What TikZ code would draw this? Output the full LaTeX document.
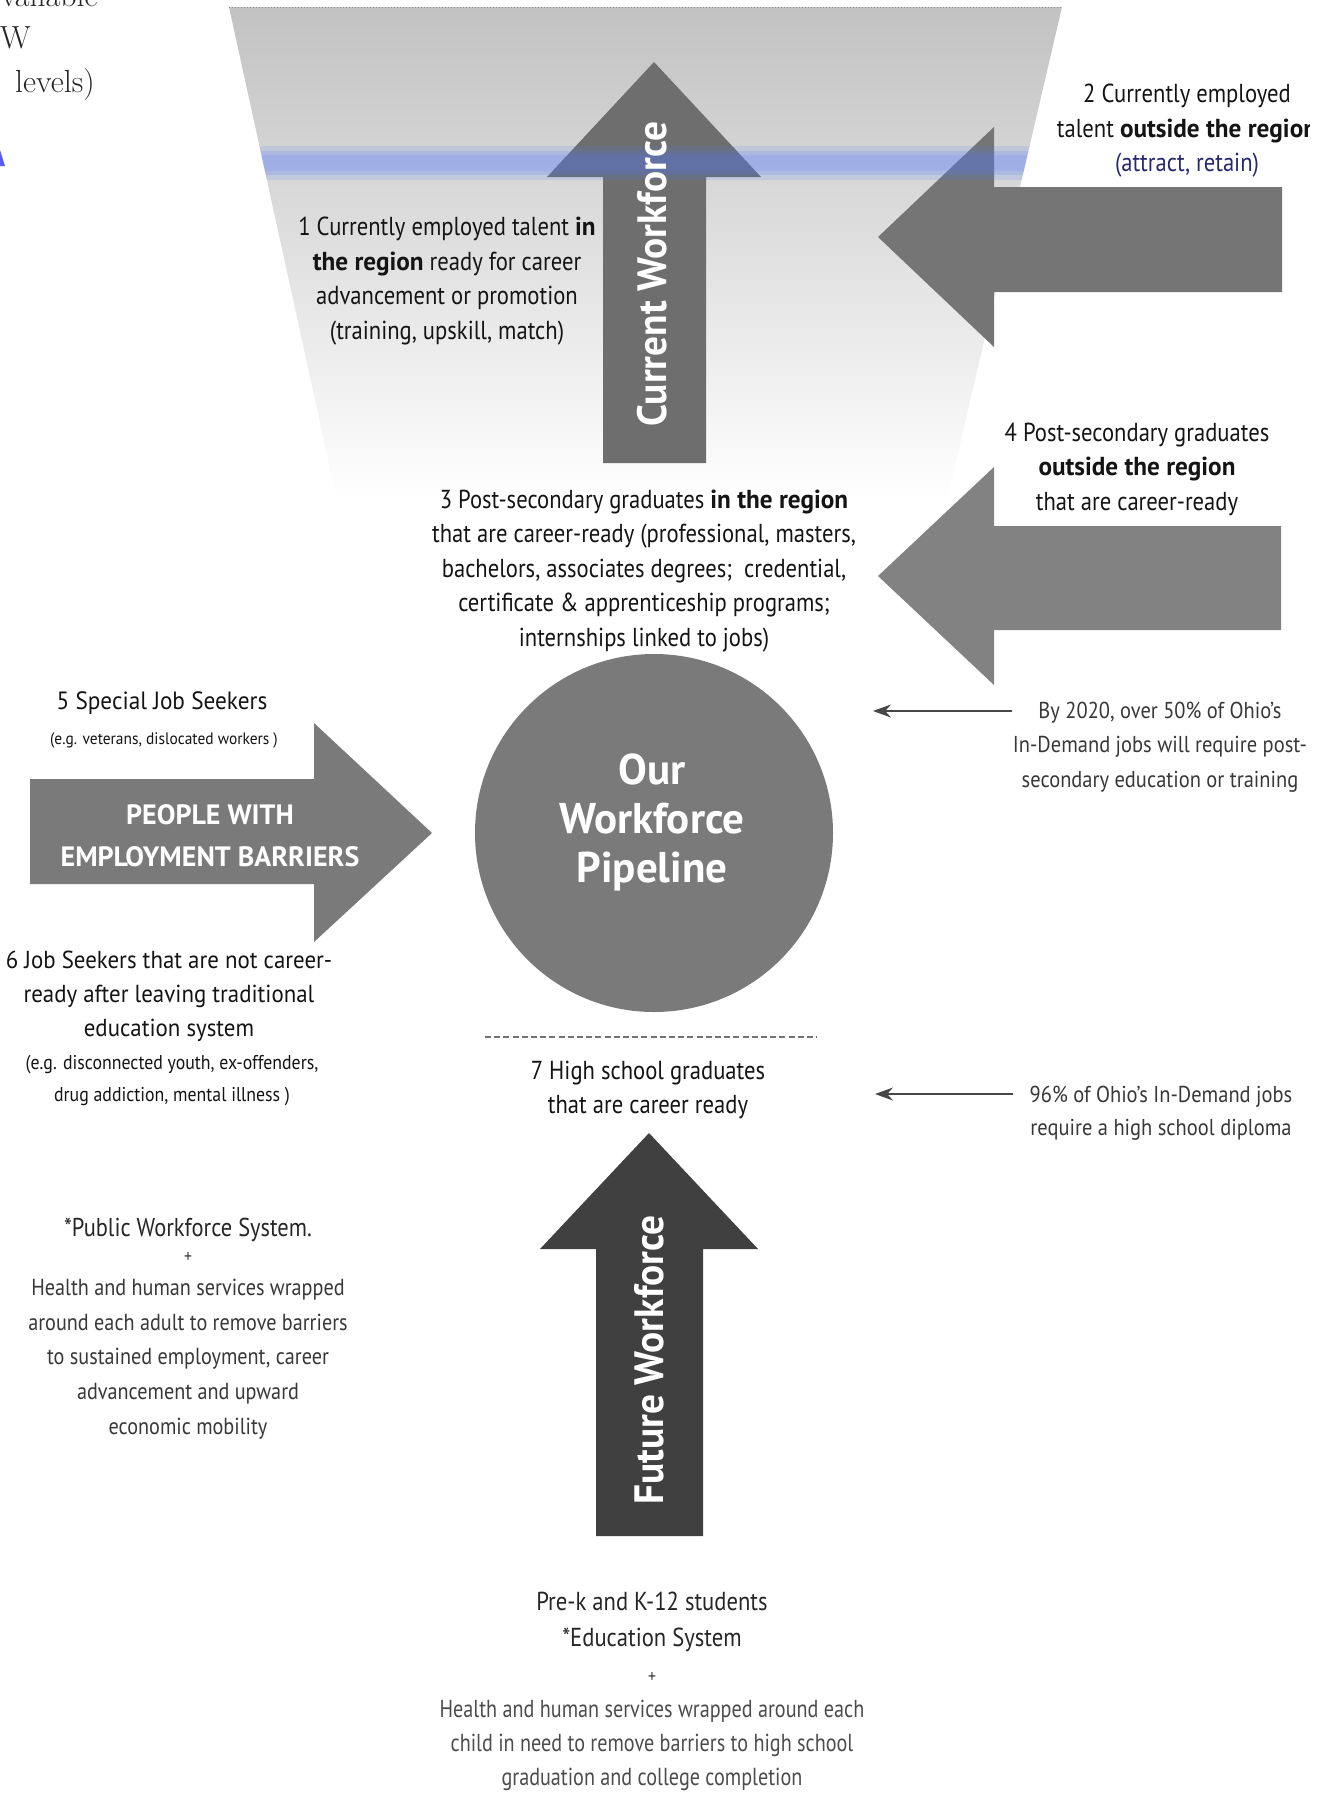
\documentclass[tikz,border=0pt]{standalone}
\usepackage{fontspec}
\newfontfamily\pta[FakeStretch=0.87]{PT Sans}
\newfontfamily\ptn[FakeStretch=0.93]{PT Sans}
\newfontfamily\ptr[FakeStretch=0.89]{PT Sans}
\newfontfamily\ptc[FakeStretch=0.82]{PT Sans}
\newfontfamily\ptb[FakeStretch=0.97]{PT Sans}
\newfontfamily\ptm[FakeStretch=0.96]{PT Sans}
\newfontfamily\ptwide{PT Sans}
\newcommand{\Bx}[1]{{\ptb\bfseries #1}}
\usetikzlibrary{arrows.meta}
\definecolor{navytext}{RGB}{40,40,110}
\definecolor{bandc}{RGB}{80,120,255}
\begin{document}
\begin{tikzpicture}[x=0.5pt,y=-0.5pt,
  lbl/.style={align=center, inner sep=0pt, text=black!92, font=\pta\fontsize{13}{17.25}\selectfont},
  notetxt/.style={align=center, inner sep=0pt, text=black!78, font=\ptr\fontsize{11.5}{17.3}\selectfont},
  arrtxt/.style={inner sep=0pt, text=white, font=\ptm\bfseries\fontsize{20.5}{20.5}\selectfont},
  serif/.style={inner sep=0pt, text=black!85, font=\fontsize{16}{19}\selectfont},
  pointer/.style={-{Stealth[length=9pt,width=6.5pt]}, line width=0.8pt, black!72}
]
\useasboundingbox (0,0) rectangle (1317,1794);
\fill[white] (0,0) rectangle (1317,1794);

% funnel
\coordinate (fTL) at (229,7);
\coordinate (fTR) at (1062,7);
\coordinate (fBR) at (947,500);
\coordinate (fBL) at (337,500);
\shade[top color=black!24, middle color=black!15, bottom color=white] (fTL) -- (fTR) -- (fBR) -- (fBL) -- cycle;
\draw[black!45, densely dotted, line width=0.5pt] (fTL) -- (fTR);

% cut-off serif text at top left
\node[serif, anchor=base east] (s1) at (98,6) {vailable};
\node[serif, anchor=base east] (s2) at (31,48) {W};
\node[serif, anchor=base east] (s3) at (95,92) {levels)};
\fill[blue!65] (0,150) -- (5,166) -- (0,166) -- cycle;

% arrows
\fill[black!57] (654,62) -- (761,177) -- (706,177) -- (706,463) -- (603,463) -- (603,177) -- (547,177) -- cycle;
\fill[black!54] (878,237) -- (994,127) -- (994,187) -- (1282,187) -- (1282,292) -- (994,292) -- (994,347) -- cycle;
\fill[black!49] (878,576) -- (994,467) -- (994,526) -- (1281,526) -- (1281,630) -- (994,630) -- (994,685) -- cycle;
\fill[black!52] (30,779) -- (314,779) -- (314,723) -- (432,833) -- (314,942) -- (314,884) -- (30,884) -- cycle;
\fill[black!75] (649,1133) -- (758,1249) -- (703,1249) -- (703,1536) -- (596,1536) -- (596,1249) -- (540,1249) -- cycle;

% circle
\node[circle, fill=black!52, minimum size=179pt, inner sep=0pt] (pipe) at (654,833) {};

% blue scan band
\begin{scope}
\clip (fTL) -- (fTR) -- (fBR) -- (fBL) -- cycle;
\fill[bandc, opacity=0.14] (0,146) rectangle (1317,180);
\fill[bandc, opacity=0.18] (0,151) rectangle (1317,175);
\fill[bandc, opacity=0.14] (0,155) rectangle (1317,171);
\end{scope}

% arrow texts
\node[arrtxt, rotate=90] (cwt) at (652,274) {Current Workforce};
\node[arrtxt, rotate=90] (fwt) at (649,1360) {Future Workforce};
\node[align=center, inner sep=0pt, text=white, font=\ptwide\bfseries\fontsize{14}{21}\selectfont] (pwt) at (210,836) {PEOPLE WITH\\EMPLOYMENT BARRIERS};
\node[align=center, inner sep=0pt, text=white, font=\ptwide\bfseries\fontsize{21.5}{24.5}\selectfont] (pipetxt) at (652,822) {Our\\Workforce\\Pipeline};

% labels
\node[lbl] (t1) at (447,281) {1 Currently employed talent \Bx{in}\\\Bx{the region} ready for career\\advancement or promotion\\(training, upskill, match)};
\begin{scope}
\clip (0,0) rectangle (1309,1794);
\node[lbl] (t2) at (1187,131) {2 Currently employed\\talent \Bx{outside the region}\\\textcolor{navytext}{(attract, retain)}};
\end{scope}
\node[lbl] (t3) at (644,571) {3 Post-secondary graduates \Bx{in the region}\\that are career-ready (professional, masters,\\bachelors, associates degrees;\ \ credential,\\certificate \& apprenticeship programs;\\internships linked to jobs)};
\node[lbl] (t4) at (1137,469) {4 Post-secondary graduates\\\Bx{outside the region}\\that are career-ready};
\node[lbl, font=\ptn\fontsize{12.5}{17}\selectfont] (t5) at (162,703) {5 Special Job Seekers};
\node[lbl, font=\ptn\fontsize{8.3}{10}\selectfont] (t5b) at (164,740) {(e.g. veterans, dislocated workers )};
\node[lbl, font=\ptn\fontsize{12.3}{17}\selectfont] (t6) at (169,996) {6 Job Seekers that are not career-\\ready after leaving traditional\\education system};
\node[lbl, font=\ptr\fontsize{10}{16}\selectfont] (t6b) at (172,1081) {(e.g. disconnected youth, ex-offenders,\\drug addiction, mental illness )};
\node[lbl] (t7) at (648,1090) {7 High school graduates\\that are career ready};

% notes
\node[notetxt] (n1) at (1160,747) {By 2020, over 50\% of Ohio’s\\In-Demand jobs will require post-\\secondary education or training};
\node[notetxt, font=\ptr\fontsize{11.5}{16.5}\selectfont] (n2) at (1161,1113) {96\% of Ohio’s In-Demand jobs\\require a high school diploma};
\coordinate (a1s) at (1012,711);
\coordinate (a1e) at (873,711);
\coordinate (a2s) at (1013,1094);
\coordinate (a2e) at (875,1094);
\draw[pointer] (a1s) -- (a1e);
\draw[pointer] (a2s) -- (a2e);

\node[notetxt, text=black!85, font=\pta\fontsize{12.9}{17}\selectfont] (p1) at (188,1230) {*Public Workforce System.};
\node[notetxt, font=\pta\fontsize{9}{10}\selectfont] (p2) at (188,1257) {+};
\node[notetxt, font=\pta\fontsize{11.6}{17.3}\selectfont] (p3) at (188,1359) {Health and human services wrapped\\around each adult to remove barriers\\to sustained employment, career\\advancement and upward\\economic mobility};

\node[notetxt, text=black!85, font=\pta\fontsize{13}{18}\selectfont] (b1) at (652,1622) {Pre-k and K-12 students\\*Education System};
\node[notetxt, font=\pta\fontsize{9}{10}\selectfont] (b2) at (652,1677) {+};
\node[notetxt, text=black!70, font=\ptc\fontsize{12.3}{17}\selectfont] (b3) at (652,1745) {Health and human services wrapped around each\\child in need to remove barriers to high school\\graduation and college completion};

% dashed separator
\coordinate (dl) at (485,1037);
\coordinate (dr) at (817,1037);
\draw[black!55, line width=0.7pt, dash pattern=on 3pt off 1.6pt] (dl) -- (dr);
\end{tikzpicture}
\end{document}
